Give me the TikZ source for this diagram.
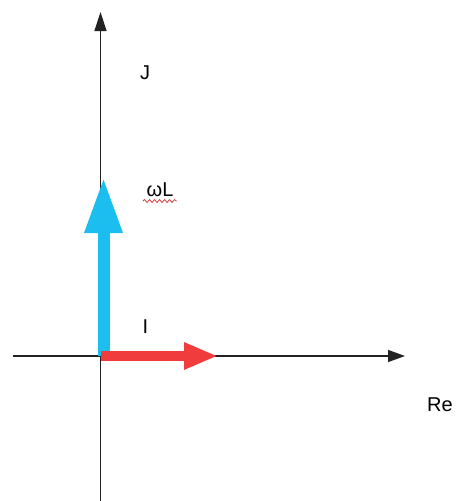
\documentclass[tikz,border=0pt]{standalone}
\usepackage{fontspec}
\setmainfont{Liberation Sans}
\usetikzlibrary{arrows.meta,decorations.pathmorphing}
\definecolor{PhasorBlue}{HTML}{1CBEF0}
\definecolor{PhasorRed}{HTML}{F03C3C}
\definecolor{AxisBlack}{HTML}{222222}
\definecolor{SpellRed}{HTML}{D04040}

\begin{document}
\begin{tikzpicture}[x=1pt,y=-1pt]
        \useasboundingbox (0,0) rectangle (459,501);

        \coordinate (reStart) at (13,356);
        \coordinate (reEnd) at (405,356);
        \coordinate (imStart) at (100.5,501);
        \coordinate (imEnd) at (100.5,12);
        \coordinate (origin) at (100.5,356);
        \coordinate (omegaBase) at (103.5,356);
        \coordinate (omegaTip) at (103.5,177);
        \coordinate (currentTip) at (218,356);

        \draw[-{Triangle[length=17pt,width=12pt]},AxisBlack,line width=1.4pt]
          (reStart) -- (reEnd);
        \draw[-{Triangle[length=19pt,width=12pt]},AxisBlack,line width=1.4pt]
          (imStart) -- (imEnd);

        \draw[-{Triangle[length=56pt,width=35pt]},PhasorBlue,line width=12pt]
          (omegaBase) -- (omegaTip);
        \draw[-{Triangle[length=34pt,width=25pt]},PhasorRed,line width=10pt]
          (origin) -- (currentTip);

        \node[font=\fontsize{20}{24}\selectfont] (jLabel) at (145,72.5) {J};
        \node[font=\fontsize{20}{24}\selectfont] (omegaLabel) at (160,190) {ωL};
        \node[font=\fontsize{20}{24}\selectfont] (currentLabel) at (145.5,326.5) {I};
        \node[font=\fontsize{20}{24}\selectfont] (reLabel) at (440,404.5) {Re};

        \coordinate (wavyStart) at (143,201);
        \coordinate (wavyEnd) at (177,201);
        \draw[SpellRed,line width=0.8pt,
          decorate,decoration={snake,segment length=5pt,amplitude=1.5pt}]
          (wavyStart) -- (wavyEnd);
      \end{tikzpicture}
\end{document}
